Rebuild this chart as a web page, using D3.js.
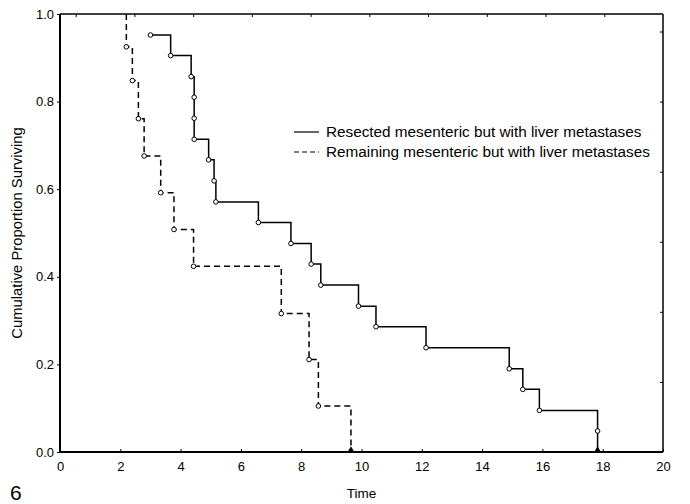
<!DOCTYPE html>
<html lang="en">
<head>
<meta charset="UTF-8">
<title>Cumulative Proportion Surviving</title>
<script src="https://d3js.org/d3.v7.min.js"></script>
<style>
  body { margin: 0; background: #fff; }
  text { font-family: "Liberation Sans", Arial, sans-serif; fill: #000; }
</style>
</head>
<body>
<svg id="chart"></svg>
<script>
// series data
const resectedTime = [3.0, 3.67, 4.35, 4.45, 4.45, 4.45, 4.93, 5.11, 5.17, 6.58, 7.66, 8.33, 8.65, 9.9, 10.48, 12.14, 14.9, 15.35, 15.9, 17.83];
const resectedSurv = [0.952, 0.905, 0.857, 0.810, 0.762, 0.714, 0.667, 0.619, 0.571, 0.524, 0.476, 0.429, 0.381, 0.333, 0.286, 0.238, 0.190, 0.143, 0.095, 0.048];
const resectedEnd = 17.83;

const remainingTime = [2.2, 2.4, 2.6, 2.79, 3.34, 3.78, 4.43, 7.34, 8.26, 8.57];
const remainingSurv = [0.925, 0.848, 0.761, 0.676, 0.592, 0.508, 0.424, 0.316, 0.211, 0.105];
const remainingEnd = 9.65;

const xTicks = [0, 2, 4, 6, 8, 10, 12, 14, 16, 18, 20];
const yTicks = [0, 0.2, 0.4, 0.6, 0.8, 1.0];
const legendLabels = ["Resected mesenteric but with liver metastases",
                      "Remaining mesenteric but with liver metastases"];

const width = 690, height = 504;
const m = {left: 60, right: 27, top: 14, bottom: 52};

const svg = d3.select("#chart").attr("width", width).attr("height", height);

const x = d3.scaleLinear().domain([0, 20]).range([m.left, width - m.right]);
const y = d3.scaleLinear().domain([0, 1]).range([height - m.bottom, m.top]);

// odd secondary tick marks on top / right frame
const xTop = d3.scaleLinear().domain([0, 10]).range([x(0.52), x(20)]);
const yRight = d3.scaleLinear().domain([0, 6.25]).range([y(0), y(1)]);

// axes
const xAxis = svg.append("g")
  .attr("transform", `translate(0,${y(0)})`)
  .call(d3.axisBottom(x).tickValues(xTicks).tickFormat(d3.format("d")).tickSizeInner(-3).tickSizeOuter(0).tickPadding(10));
xAxis.selectAll("text").attr("font-size", 13);

const yAxis = svg.append("g")
  .attr("transform", `translate(${x(0)},0)`)
  .call(d3.axisLeft(y).tickValues(yTicks).tickFormat(d3.format(".1f")).tickSize(3).tickSizeOuter(0).tickPadding(3));
yAxis.selectAll("text").attr("font-size", 13);

svg.append("g")
  .attr("transform", `translate(0,${y(1)})`)
  .call(d3.axisBottom(xTop).tickValues(d3.range(10)).tickSize(3).tickFormat("").tickSizeOuter(0));

svg.append("g")
  .attr("transform", `translate(${x(20)},0)`)
  .call(d3.axisLeft(yRight).tickValues([1, 2, 3, 4, 5, 6]).tickSize(3).tickFormat("").tickSizeOuter(0));

svg.selectAll(".domain").remove();

// frame
svg.append("line").attr("x1", x(0)).attr("x2", x(0)).attr("y1", y(0)).attr("y2", y(1)).attr("stroke", "#000").attr("stroke-width", 2);
svg.append("line").attr("x1", x(0)).attr("x2", x(20)).attr("y1", y(0)).attr("y2", y(0)).attr("stroke", "#000").attr("stroke-width", 2);
svg.append("line").attr("x1", x(0)).attr("x2", x(20)).attr("y1", y(1)).attr("y2", y(1)).attr("stroke", "#000").attr("stroke-width", 1.5);
svg.append("line").attr("x1", x(20)).attr("x2", x(20)).attr("y1", y(0)).attr("y2", y(1)).attr("stroke", "#000").attr("stroke-width", 1.5);

// curves
const line = d3.line().x(d => x(d[0])).y(d => y(d[1])).curve(d3.curveStepAfter);

const resPts = resectedTime.map((t, i) => [t, resectedSurv[i]]);
const remPts = remainingTime.map((t, i) => [t, remainingSurv[i]]);

svg.append("path")
  .datum(resPts.concat([[resectedEnd, 0]]))
  .attr("d", line).attr("fill", "none").attr("stroke", "#000").attr("stroke-width", 1.5);

svg.append("path")
  .datum([[remainingTime[0], 1]].concat(remPts, [[remainingEnd, 0]]))
  .attr("d", line).attr("fill", "none").attr("stroke", "#000").attr("stroke-width", 1.5)
  .attr("stroke-dasharray", "6,4");

// markers
svg.append("g").selectAll("circle")
  .data(resPts.concat(remPts))
  .join("circle")
  .attr("cx", d => x(d[0])).attr("cy", d => y(d[1])).attr("r", 2.3)
  .attr("fill", "#fff").attr("stroke", "#000").attr("stroke-width", 1);

svg.append("g").selectAll("path")
  .data([resectedEnd, remainingEnd])
  .join("path")
  .attr("d", d3.symbol(d3.symbolTriangle, 18))
  .attr("transform", d => `translate(${x(d)},${y(0) - 2})`)
  .attr("fill", "#000");

// legend
const legend = svg.append("g").attr("transform", "translate(294,132)");
legendLabels.forEach((lab, i) => {
  const g = legend.append("g").attr("transform", `translate(0,${i * 20})`);
  g.append("line").attr("x1", 0).attr("x2", 25).attr("y1", 0).attr("y2", 0)
    .attr("stroke", "#000").attr("stroke-width", 1.2)
    .attr("stroke-dasharray", i === 1 ? "5,3" : null);
  g.append("text").attr("x", 32).attr("y", 5).attr("font-size", 15.3).text(lab);
});

// axis titles
svg.append("text")
  .attr("x", (x(0) + x(20)) / 2).attr("y", 498)
  .attr("text-anchor", "middle").attr("font-size", 13.5).text("Time");

svg.append("text")
  .attr("transform", `translate(22,${(y(0) + y(1)) / 2}) rotate(-90)`)
  .attr("text-anchor", "middle").attr("font-size", 14.8).text("Cumulative Proportion Surviving");

svg.append("text")
  .attr("x", 10).attr("y", 500).attr("font-size", 21).text("6");
</script>
</body>
</html>
